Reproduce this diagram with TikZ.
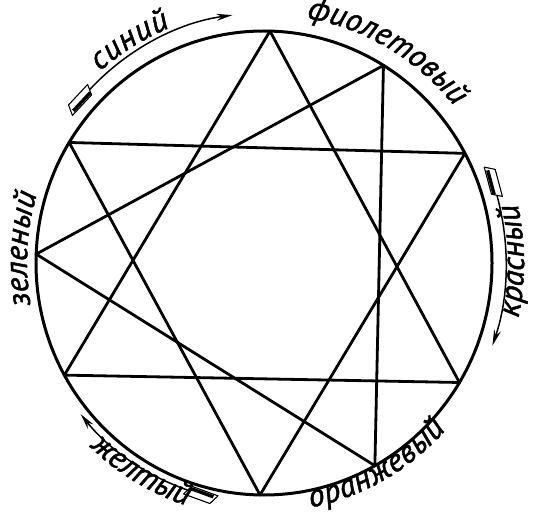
\documentclass[tikz,border=0pt]{standalone}
\usepackage{fontspec}
\newfontfamily\lblfont{PT Sans}[FakeBold=1.5]
\usetikzlibrary{decorations.text, arrows.meta}
\newcommand\lblf{\lblfont\itshape\fontsize{32}{32}\selectfont}
\begin{document}
\begin{tikzpicture}[x=1pt,y=1pt,
  edge/.style={line width=2.8pt, line cap=round, line join=round},
  rim/.style={line width=3pt},
  flow/.style={line width=1.5pt, -{Stealth[length=16pt,width=7pt]}},
  feather/.style={line width=1.1pt, fill=white, line join=round},
  featherband/.style={line width=3.4pt},
  lbl/.style={decorate, decoration={text along path, text align={fit to path}}}
]
\path[fill=white] (0,0) rectangle (533,512);
\useasboundingbox (0,0) rectangle (533,512);
\coordinate (c) at (264,249);
\draw[rim] (c) ellipse[x radius=228, y radius=232];
\foreach \n/\a in {v1/88.5, v2/58.4, v3/28.2, v4/-31, v5/-60.9, v6/-91, v7/-151.1, v8/177.8, v9/148.7}
  \path (c) ++(\a:228 and 232) coordinate (\n);
% three triangles
\draw[edge] (v1) -- (v7) -- (v4) -- cycle;
\draw[edge] (v3) -- (v9) -- (v6) -- cycle;
\draw[edge] (v2) -- (v8) -- (v5) -- cycle;
% arrows
\path (c) ++(136:242 and 250) coordinate (s1);
\draw[flow] (s1) arc[start angle=136, end angle=97.5, x radius=242, y radius=250];
\path (c) ++(15.6:242 and 250) coordinate (s2);
\draw[flow] (s2) arc[start angle=15.6, end angle=-19.3, x radius=242, y radius=250];
\path (c) ++(-109:236 and 240) coordinate (s3);
\draw[flow] (s3) arc[start angle=-109, end angle=-141, x radius=236, y radius=240];
% feathers
\foreach \s/\r in {s1/47, s2/-75, s3/160}{
  \begin{scope}[shift={(\s)}, rotate=\r]
    \draw[feather] (2,5) -- (-26,5) -- (-31,-5) -- (-3,-5) -- cycle;
    \draw[featherband] (-27,-2.5) -- (-2,-2.5);
  \end{scope}
}
% labels
\path[lbl, decoration={text={|\lblf|синий}}] (c) ++(131:250 and 254) arc[start angle=131, end angle=112, x radius=250, y radius=254];
\path[lbl, decoration={text={|\lblf|фиолетовый}}] (c) ++(80:245 and 249) arc[start angle=80, end angle=39, x radius=245, y radius=249];
\path[lbl, decoration={text={|\lblf|красный}}] (c) ++(-12:260 and 264) arc[start angle=-12, end angle=13, x radius=260, y radius=264];
\path[lbl, decoration={text={|\lblf|оранжевый}}] (c) ++(-79:245 and 249) arc[start angle=-79, end angle=-42, x radius=245, y radius=249];
\path[lbl, decoration={text={|\lblf|желтый}}] (c) ++(-134:251 and 255) arc[start angle=-134, end angle=-109.5, x radius=251, y radius=255];
\path[lbl, decoration={text={|\lblf|зеленый}}] (c) ++(190:237 and 241) arc[start angle=190, end angle=164, x radius=237, y radius=241];
\end{tikzpicture}
\end{document}
